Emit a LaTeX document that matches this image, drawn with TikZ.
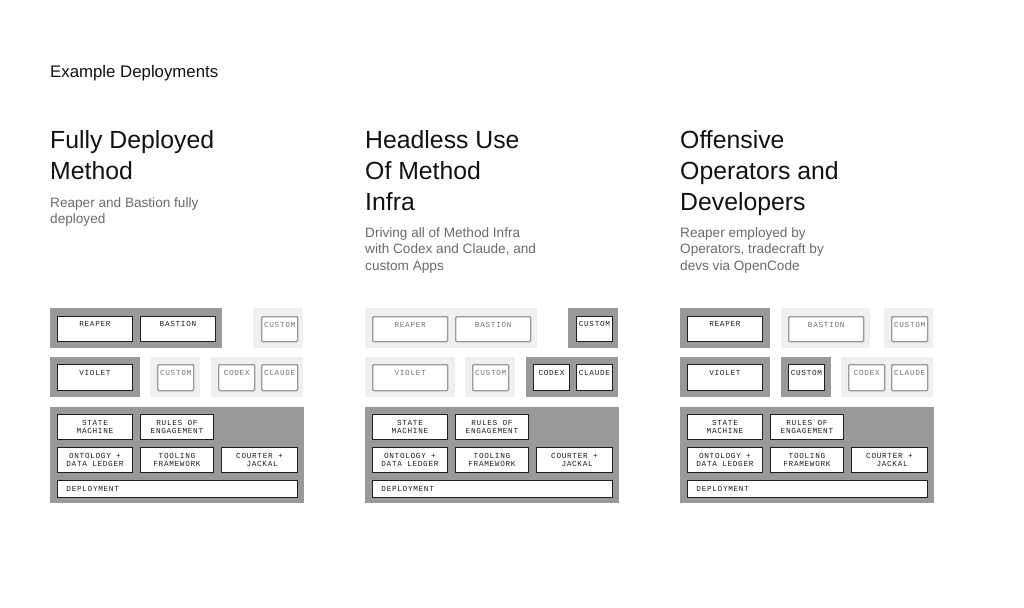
\documentclass[tikz,border=0pt]{standalone}
\usepackage{fontspec}
\setmainfont{Liberation Sans}
\newfontfamily\boxfont[LetterSpace=9]{Liberation Mono}
\begin{document}
\begin{tikzpicture}[x=1pt,y=-1pt,
  darkgrp/.style={fill=black!40, draw=none},
  lightgrp/.style={fill=black!6, draw=none},
  abox/.style={draw=black!88, line width=0.9pt, fill=white, text=black!88,
     font=\boxfont\fontsize{7.7}{8.2}\selectfont, inner sep=0pt},
  ibox/.style={draw=black!40, line width=1.4pt, fill=white, text=black!55,
     rounded corners=1.2pt, font=\boxfont\fontsize{7.7}{8.2}\selectfont, inner sep=0pt},
  one/.style={text height=5pt, text depth=9pt},
  two/.style={align=center},
  heading/.style={anchor=base west, inner sep=0pt, text=black!93, font=\fontsize{24.8}{30}\selectfont},
  sub/.style={anchor=base west, inner sep=0pt, text=black!58, font=\fontsize{13.6}{17}\selectfont},
]
\useasboundingbox (0,0) rectangle (1024,607);
\fill[white] (0,0) rectangle (1024,607);

\node[anchor=base west, inner sep=0pt, text=black!93, font=\fontsize{16.8}{20}\selectfont] (ex) at (50,78) {Example Deployments};

% ---------- headings ----------
\node[heading] (h1a) at (50,148) {Fully Deployed};
\node[heading] (h1b) at (50,179) {Method};
\node[sub] (s1a) at (50,207) {Reaper and Bastion fully};
\node[sub] (s1b) at (50,223.5) {deployed};

\node[heading] (h2a) at (365,148) {Headless Use};
\node[heading] (h2b) at (365,179) {Of Method};
\node[heading] (h2c) at (365,210) {Infra};
\node[sub] (s2a) at (365,237) {Driving all of Method Infra};
\node[sub] (s2b) at (365,253.5) {with Codex and Claude, and};
\node[sub] (s2c) at (365,270) {custom Apps};

\node[heading] (h3a) at (680,148) {Offensive};
\node[heading] (h3b) at (680,179) {Operators and};
\node[heading] (h3c) at (680,210) {Developers};
\node[sub] (s3a) at (680,237) {Reaper employed by};
\node[sub] (s3b) at (680,253.5) {Operators, tradecraft by};
\node[sub] (s3c) at (680,270) {devs via OpenCode};

% ---------- common stack (bottom) ----------
\foreach \dx/\p in {0/a,315/b,630/c}{
  \begin{scope}[xshift=\dx]
  \fill[darkgrp] (50,407) rectangle (304,503);
  \node[abox, two, minimum width=75pt, minimum height=25pt, anchor=north west] (sm\p) at (57,414) {STATE\\MACHINE};
  \node[abox, two, minimum width=73pt, minimum height=25pt, anchor=north west] (re\p) at (140,414) {RULES OF\\ENGAGEMENT};
  \node[abox, two, minimum width=75pt, minimum height=25pt, anchor=north west] (on\p) at (57,447) {ONTOLOGY +\\DATA LEDGER};
  \node[abox, two, minimum width=73pt, minimum height=25pt, anchor=north west] (tf\p) at (140,447) {TOOLING\\FRAMEWORK};
  \node[abox, two, minimum width=76pt, minimum height=25pt, anchor=north west] (cj\p) at (221,447) {COURTER +\\\ JACKAL};
  \node[abox, minimum width=240pt, minimum height=17pt, anchor=north west, text width=222pt, align=left] (dp\p) at (57,480) {DEPLOYMENT};
  \end{scope}
}

% ---------- panel 1 ----------
\fill[darkgrp] (50,308) rectangle (222,348);
\node[abox, one, minimum width=75pt, minimum height=25pt, anchor=north west] (rp1) at (57,316) {REAPER};
\node[abox, one, minimum width=75pt, minimum height=25pt, anchor=north west] (bs1) at (140,316) {BASTION};
\fill[lightgrp] (253,308) rectangle (303,348);
\node[ibox, one, minimum width=36pt, minimum height=25pt, anchor=north west] (cu1a) at (261,316) {CUSTOM};
\fill[darkgrp] (50,357) rectangle (140,397);
\node[abox, one, minimum width=75pt, minimum height=26pt, anchor=north west] (vi1) at (57,364) {VIOLET};
\fill[lightgrp] (150,357) rectangle (200,397);
\node[ibox, one, minimum width=36pt, minimum height=26pt, anchor=north west] (cu1b) at (157,364) {CUSTOM};
\fill[lightgrp] (211,357) rectangle (303,397);
\node[ibox, one, minimum width=36pt, minimum height=26pt, anchor=north west] (cx1) at (218,364) {CODEX};
\node[ibox, one, minimum width=36pt, minimum height=26pt, anchor=north west] (cl1) at (261,364) {CLAUDE};

% ---------- panel 2 ----------
\begin{scope}[xshift=315]
\fill[lightgrp] (50,308) rectangle (222,348);
\node[ibox, one, minimum width=75pt, minimum height=25pt, anchor=north west] (rp2) at (57,316) {REAPER};
\node[ibox, one, minimum width=75pt, minimum height=25pt, anchor=north west] (bs2) at (140,316) {BASTION};
\fill[darkgrp] (253,308) rectangle (303,348);
\node[abox, one, minimum width=36pt, minimum height=25pt, anchor=north west] (cu2a) at (261,316) {CUSTOM};
\fill[lightgrp] (50,357) rectangle (140,397);
\node[ibox, one, minimum width=75pt, minimum height=26pt, anchor=north west] (vi2) at (57,364) {VIOLET};
\fill[lightgrp] (150,357) rectangle (200,397);
\node[ibox, one, minimum width=36pt, minimum height=26pt, anchor=north west] (cu2b) at (157,364) {CUSTOM};
\fill[darkgrp] (211,357) rectangle (303,397);
\node[abox, one, minimum width=36pt, minimum height=26pt, anchor=north west] (cx2) at (218,364) {CODEX};
\node[abox, one, minimum width=36pt, minimum height=26pt, anchor=north west] (cl2) at (261,364) {CLAUDE};
\end{scope}

% ---------- panel 3 ----------
\begin{scope}[xshift=630]
\fill[darkgrp] (50,308) rectangle (140,348);
\node[abox, one, minimum width=75pt, minimum height=25pt, anchor=north west] (rp3) at (57,316) {REAPER};
\fill[lightgrp] (151,308) rectangle (240,348);
\node[ibox, one, minimum width=75pt, minimum height=25pt, anchor=north west] (bs3) at (158,316) {BASTION};
\fill[lightgrp] (254,308) rectangle (303,348);
\node[ibox, one, minimum width=36pt, minimum height=25pt, anchor=north west] (cu3a) at (261,316) {CUSTOM};
\fill[darkgrp] (50,357) rectangle (140,397);
\node[abox, one, minimum width=75pt, minimum height=26pt, anchor=north west] (vi3) at (57,364) {VIOLET};
\fill[darkgrp] (151,357) rectangle (201,397);
\node[abox, one, minimum width=36pt, minimum height=26pt, anchor=north west] (cu3b) at (158,364) {CUSTOM};
\fill[lightgrp] (211,357) rectangle (303,397);
\node[ibox, one, minimum width=36pt, minimum height=26pt, anchor=north west] (cx3) at (218,364) {CODEX};
\node[ibox, one, minimum width=36pt, minimum height=26pt, anchor=north west] (cl3) at (261,364) {CLAUDE};
\end{scope}
\end{tikzpicture}
\end{document}
